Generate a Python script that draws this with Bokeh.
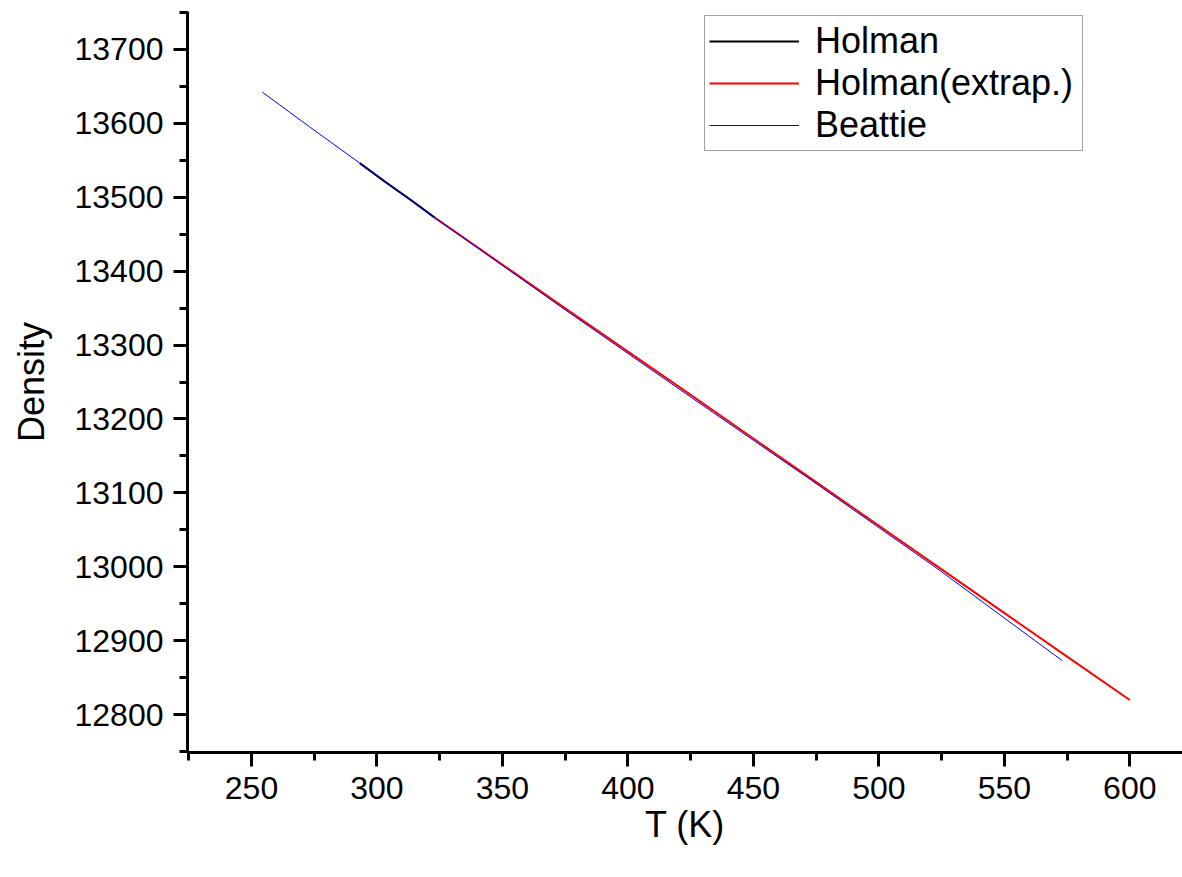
from bokeh.plotting import figure
from bokeh.models import Range1d, FixedTicker, Legend, LegendItem
from bokeh.embed import file_html
from bokeh.resources import INLINE

# ---- data ----
holman_T = [293.15, 303.15, 313.15, 323.15]
holman_rho = [13546, 13521, 13497, 13472]

extrap_T = [323.15, 373.15, 423.15, 473.15, 523.15, 573.15, 600.0]
extrap_rho = [13472, 13354, 13237, 13119, 13001, 12883, 12820]

beattie_T = [254.3, 273.15, 293.15, 323.15, 373.15, 423.15, 473.15, 523.15, 573.15]
beattie_rho = [13642, 13595, 13546, 13472, 13352, 13234, 13117, 12998, 12873]

x_major = [250, 300, 350, 400, 450, 500, 550, 600]
x_minor = [225, 275, 325, 375, 425, 475, 525, 575]
y_major = [12800, 12900, 13000, 13100, 13200, 13300, 13400, 13500, 13600, 13700]
y_minor = [12750, 12850, 12950, 13050, 13150, 13250, 13350, 13450, 13550, 13650, 13750]

FONT = "Liberation Sans"

p = figure(width=1182, height=877, output_backend="svg", toolbar_location=None,
           x_range=Range1d(224.5, 621.0), y_range=Range1d(12749, 13751),
           min_border_left=187, min_border_right=0, min_border_top=11, min_border_bottom=125)
p.outline_line_color = None
p.xgrid.visible = False
p.ygrid.visible = False
p.background_fill_color = "white"

r_h = p.line(holman_T, holman_rho, line_color="black", line_width=2)
r_e = p.line(extrap_T, extrap_rho, line_color="#FF0000", line_width=2)
r_b = p.line(beattie_T, beattie_rho, line_color="#0000FF", line_width=1)

for ax in (p.xaxis[0], p.yaxis[0]):
    ax.axis_line_width = 3
    ax.axis_line_color = "black"
    ax.major_tick_line_width = 3
    ax.minor_tick_line_width = 3
    ax.major_tick_out = 14
    ax.major_tick_in = 0
    ax.minor_tick_out = 8
    ax.minor_tick_in = 0
    ax.major_label_text_font = FONT
    ax.major_label_text_font_size = "32px"
    ax.major_label_text_color = "black"
    ax.axis_label_text_font = FONT
    ax.axis_label_text_font_size = "36px"
    ax.axis_label_text_font_style = "normal"
    ax.axis_label_text_color = "black"
    ax.major_label_standoff = 10

p.xaxis[0].ticker = FixedTicker(ticks=x_major, minor_ticks=x_minor)
p.yaxis[0].ticker = FixedTicker(ticks=y_major, minor_ticks=y_minor)
p.xaxis[0].axis_label = "T (K)"
p.yaxis[0].axis_label = "Density"
p.xaxis[0].axis_label_standoff = 2
p.yaxis[0].axis_label_standoff = 20

legend = Legend(items=[LegendItem(label="Holman", renderers=[r_h]),
                       LegendItem(label="Holman(extrap.)", renderers=[r_e]),
                       LegendItem(label="Beattie", renderers=[r_b])],
                location=(517, 601))
legend.margin = 0
legend.padding = 4
legend.spacing = 0
legend.glyph_width = 90
legend.glyph_height = 42
legend.label_height = 42
legend.label_width = 263
legend.label_standoff = 16
legend.label_text_font = FONT
legend.label_text_font_size = "36px"
legend.label_text_color = "black"
legend.border_line_color = "#444444"
legend.border_line_width = 1.5
legend.background_fill_color = "white"
legend.background_fill_alpha = 1.0
p.add_layout(legend)

open("out.html", "w").write(file_html(p, INLINE))
